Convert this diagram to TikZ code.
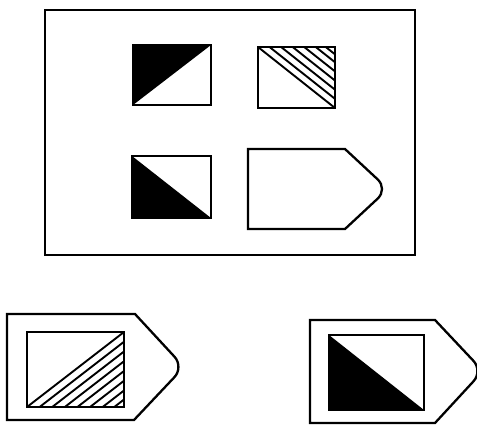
\documentclass[tikz,border=0pt]{standalone}
\begin{document}
\begin{tikzpicture}[x=1pt,y=-1pt,line join=miter,
  fig/.style={draw=black,line width=2.3pt},
  hatch/.style={draw=black,line width=1.9pt}]
\useasboundingbox (0,0) rectangle (477,426);
% frame
\draw[line width=1.5pt] (45,10) rectangle (415,255);
% square 1: black upper-left triangle
\fill[black] (133,45) -- (211,45) -- (133,105) -- cycle;
\draw[fig] (133,45) rectangle (211,105);
% square 2: hatched upper-right triangle
\foreach \t in {0.15,0.3,0.45,0.6,0.75,0.88}{
  \draw[hatch] ({258+\t*77},47) -- (335,{47+(1-\t)*61});
}
\draw[hatch] (258,47) -- (335,108);
\draw[fig] (258,47) rectangle (335,108);
% square 3: black lower-left triangle
\fill[black] (132,156) -- (211,218) -- (132,218) -- cycle;
\draw[fig] (132,156) rectangle (211,218);
% pentagon
\draw[fig] (248,149) -- (345,149) [rounded corners=14pt] -- (388,189) [sharp corners] -- (345,229) -- (248,229) -- cycle;
% answer A
\draw[fig] (7,314) -- (135,314) [rounded corners=14pt] -- (184,367) [sharp corners] -- (134,420) -- (7,420) -- cycle;
\foreach \t in {0.13,0.26,0.39,0.52,0.65,0.78,0.9}{
  \draw[hatch] ({27+\t*97},407) -- (124,{407-(1-\t)*75});
}
\draw[hatch] (27,407) -- (124,332);
\draw[fig] (27,332) rectangle (124,407);
% answer B
\draw[fig] (310,320) -- (435,320) [rounded corners=14pt] -- (483,371) [sharp corners] -- (435,423) -- (310,423) -- cycle;
\fill[black] (329,335) -- (424,410) -- (329,410) -- cycle;
\draw[fig] (329,335) rectangle (424,410);
\end{tikzpicture}
\end{document}
